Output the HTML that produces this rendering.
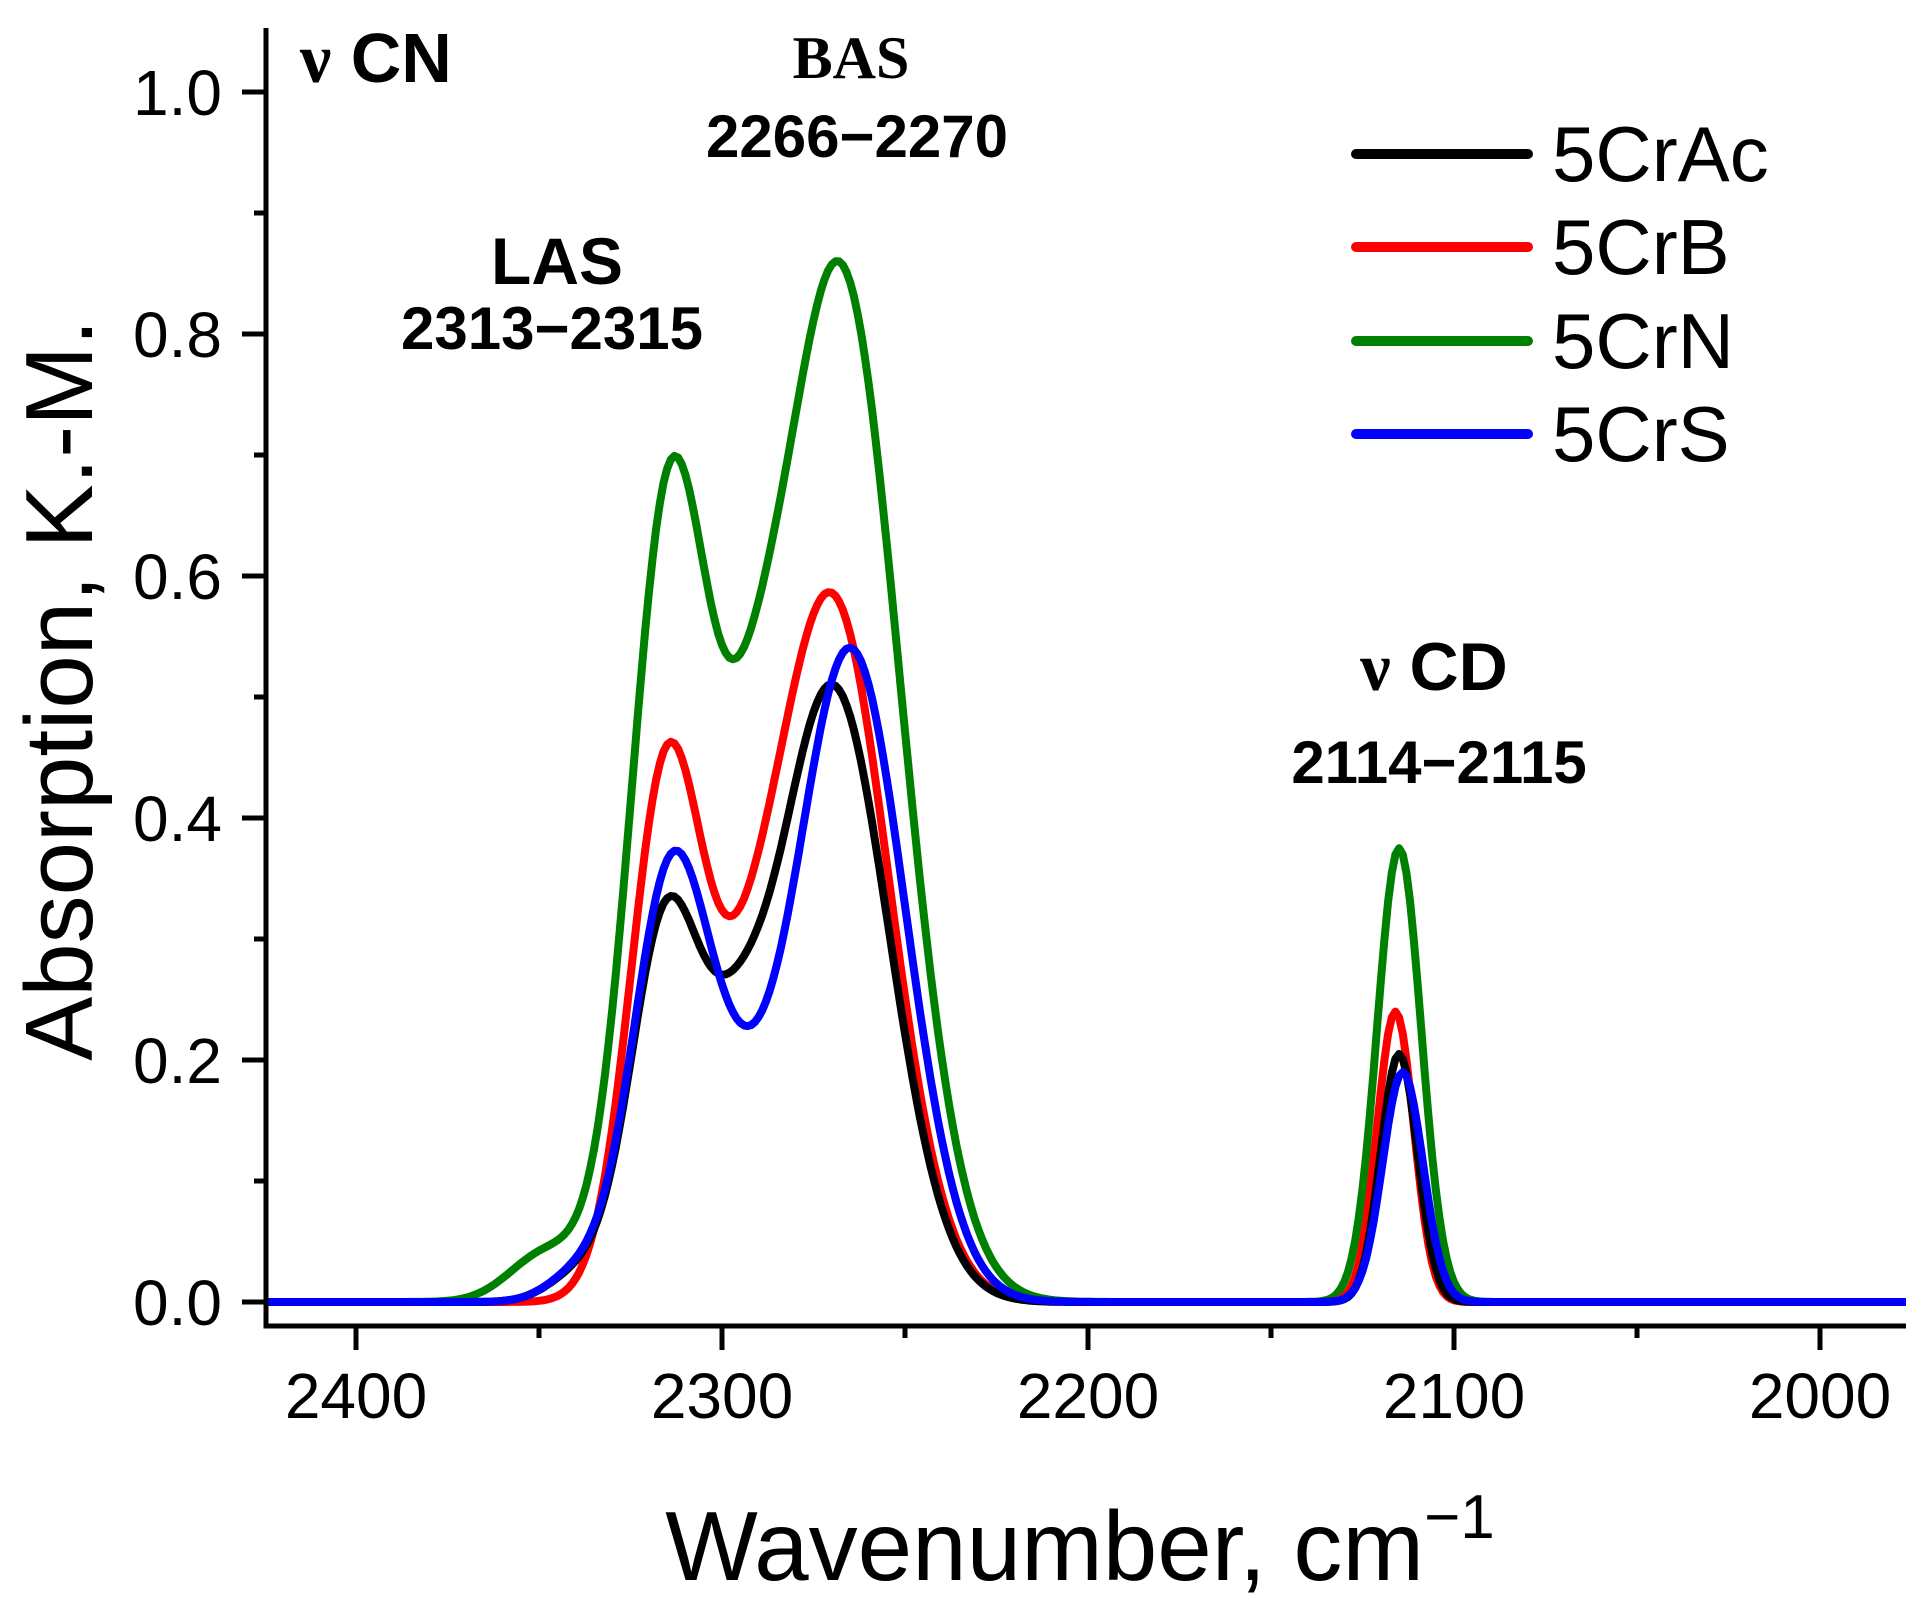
<!DOCTYPE html>
<html><head><meta charset="utf-8"><style>
html,body{margin:0;padding:0;background:#fff;}
svg{display:block;}
text{font-family:"Liberation Sans",Arial,sans-serif;fill:#000;}
</style></head><body>
<svg id="s" width="1924" height="1609" viewBox="0 0 1924 1609" xmlns="http://www.w3.org/2000/svg">
<defs><clipPath id="c"><rect x="266" y="20" width="1640" height="1304"/></clipPath></defs>
<g id="curves" clip-path="url(#c)" fill="none" stroke-width="8" stroke-linejoin="round"></g>
<g stroke="#000" stroke-width="5" fill="none">
<path d="M266 28 V1326 H1906"/>
</g>
<g id="ticks" stroke="#000" stroke-width="5"></g>
<g font-size="64" text-anchor="end" id="ylab"></g>
<g font-size="64" text-anchor="middle" id="xlab"></g>
<text x="300" y="82" font-size="70" font-weight="bold"><tspan style="font-family:'Liberation Serif',serif">ν</tspan> CN</text>
<text x="851" y="78" font-size="60" font-weight="bold" text-anchor="middle" style="font-family:'Liberation Serif',serif">BAS</text>
<text x="857" y="157" font-size="60" font-weight="bold" text-anchor="middle">2266−2270</text>
<text x="557" y="284" font-size="66" font-weight="bold" text-anchor="middle">LAS</text>
<text x="552" y="349" font-size="60" font-weight="bold" text-anchor="middle">2313−2315</text>
<text x="1434" y="690" font-size="68" font-weight="bold" text-anchor="middle"><tspan style="font-family:'Liberation Serif',serif">ν</tspan> CD</text>
<text x="1439" y="783" font-size="60" font-weight="bold" text-anchor="middle">2114−2115</text>
<g stroke-width="10" stroke-linecap="round">
<line x1="1356" y1="154" x2="1528" y2="154" stroke="#000"/>
<line x1="1356" y1="247" x2="1528" y2="247" stroke="#f00"/>
<line x1="1356" y1="341" x2="1528" y2="341" stroke="#008000"/>
<line x1="1356" y1="434" x2="1528" y2="434" stroke="#00f"/>
</g>
<g font-size="78">
<text x="1552" y="181">5CrAc</text>
<text x="1552" y="274">5CrB</text>
<text x="1552" y="368">5CrN</text>
<text x="1552" y="461">5CrS</text>
</g>
<text x="1080" y="1580" font-size="98" text-anchor="middle">Wavenumber, cm<tspan font-size="62" dy="-42">−1</tspan></text>
<text transform="translate(92,690) rotate(-90)" font-size="96" text-anchor="middle">Absorption, K.-M.</text>
</svg>
<script>
var NS="http://www.w3.org/2000/svg";
function X(w){return 356+(2400-w)*3.66;}
function Y(v){return 1302-v*1210;}
function g(x,m,s){return Math.exp(-(x-m)*(x-m)/(2*s*s));}
var T=document.getElementById('ticks'),YL=document.getElementById('ylab'),XL=document.getElementById('xlab');
function ln(a,b,c,d){var l=document.createElementNS(NS,'line');l.setAttribute('x1',a);l.setAttribute('y1',b);l.setAttribute('x2',c);l.setAttribute('y2',d);T.appendChild(l);}
function tx(p,x,y,t){var e=document.createElementNS(NS,'text');e.setAttribute('x',x);e.setAttribute('y',y);e.textContent=t;p.appendChild(e);}
for(var i=0;i<=10;i++){var y=Y(i/10);ln(i%2?254:242,y,266,y);if(i%2==0)tx(YL,222,y+23,(i/10).toFixed(1));}
for(var w=2400;w>=1980;w-=50){var x=X(w);if(x>1906)break;ln(x,1326,x,(w%100)?1338:1350);if(w%100==0)tx(XL,x,1418,w);}
var series=[
["#008000",function(x){return 0.67*g(x,2314,11)+0.855*g(x,2268,16.5)+0.17*g(x,2292,9)+0.04*g(x,2348,10)+0.375*g(x,2115,6);}],
["#f00",function(x){return 0.44*g(x,2315,10)+0.58*g(x,2270,15.5)+0.11*g(x,2294,10)+0.24*g(x,2116,5);}],
["#000",function(x){return 0.32*g(x,2315,10)+0.51*g(x,2270,15.5)+0.1*g(x,2296,8)+0.02*g(x,2340,8)+0.205*g(x,2115,5);}],
["#00f",function(x){return 0.35*g(x,2314,10.5)+0.54*g(x,2265,15)+0.09*g(x,2296,10)+0.02*g(x,2340,8)+0.19*g(x,2114,5.5);}]
];
var C=document.getElementById('curves');
series.forEach(function(s){var pts=[];for(var w=2430;w>=1970;w-=1){pts.push(X(w).toFixed(1)+","+Y(s[1](w)).toFixed(1));}
var p=document.createElementNS(NS,'polyline');p.setAttribute('points',pts.join(' '));p.setAttribute('stroke',s[0]);C.appendChild(p);});
</script>
</body></html>
